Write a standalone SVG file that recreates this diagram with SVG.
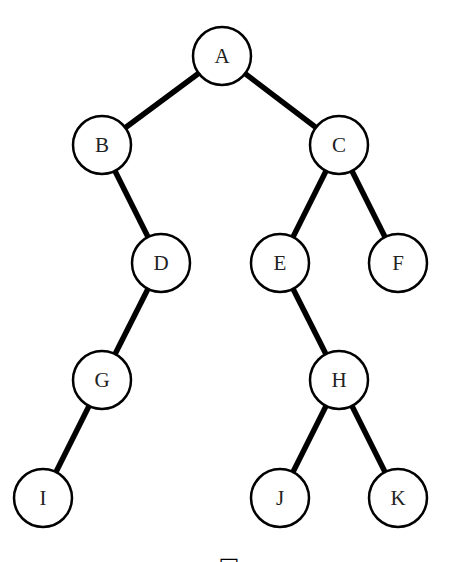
<svg xmlns="http://www.w3.org/2000/svg" width="474" height="562" viewBox="0 0 474 562">
<style>
.edge{stroke:#000;stroke-width:5.5;stroke-linecap:butt}
.node circle{fill:#fff;stroke:#000;stroke-width:2.5}
.node text{font-family:"Liberation Serif","DejaVu Serif",serif;font-size:21px;fill:#222;text-anchor:middle;dominant-baseline:central}
</style>
<rect width="474" height="562" fill="#fff"/>
<g id="connectors">
<line class="edge" x1="222" y1="56" x2="102" y2="145"/>
<line class="edge" x1="222" y1="56" x2="339" y2="145"/>
<line class="edge" x1="102" y1="145" x2="161" y2="263"/>
<line class="edge" x1="339" y1="145" x2="280" y2="263"/>
<line class="edge" x1="339" y1="145" x2="398" y2="263"/>
<line class="edge" x1="161" y1="263" x2="102" y2="380"/>
<line class="edge" x1="280" y1="263" x2="339" y2="380"/>
<line class="edge" x1="102" y1="380" x2="43" y2="498"/>
<line class="edge" x1="339" y1="380" x2="280" y2="498"/>
<line class="edge" x1="339" y1="380" x2="398" y2="498"/>
</g>
<g id="A" class="node"><circle cx="222" cy="56" r="29"/><text x="222" y="56">A</text></g>
<g id="B" class="node"><circle cx="102" cy="145" r="29"/><text x="102" y="145">B</text></g>
<g id="C" class="node"><circle cx="339" cy="145" r="29"/><text x="339" y="145">C</text></g>
<g id="D" class="node"><circle cx="161" cy="263" r="29"/><text x="161" y="263">D</text></g>
<g id="E" class="node"><circle cx="280" cy="263" r="29"/><text x="280" y="263">E</text></g>
<g id="F" class="node"><circle cx="398" cy="263" r="29"/><text x="398" y="263">F</text></g>
<g id="G" class="node"><circle cx="102" cy="380" r="29"/><text x="102" y="380">G</text></g>
<g id="H" class="node"><circle cx="339" cy="380" r="29"/><text x="339" y="380">H</text></g>
<g id="I" class="node"><circle cx="43" cy="498" r="29"/><text x="43" y="498">I</text></g>
<g id="J" class="node"><circle cx="280" cy="498" r="29"/><text x="280" y="498">J</text></g>
<g id="K" class="node"><circle cx="398" cy="498" r="29"/><text x="398" y="498">K</text></g>
<text x="229" y="573" font-family="DejaVu Sans, sans-serif" font-size="22" text-anchor="middle" fill="#000">□</text>
</svg>
